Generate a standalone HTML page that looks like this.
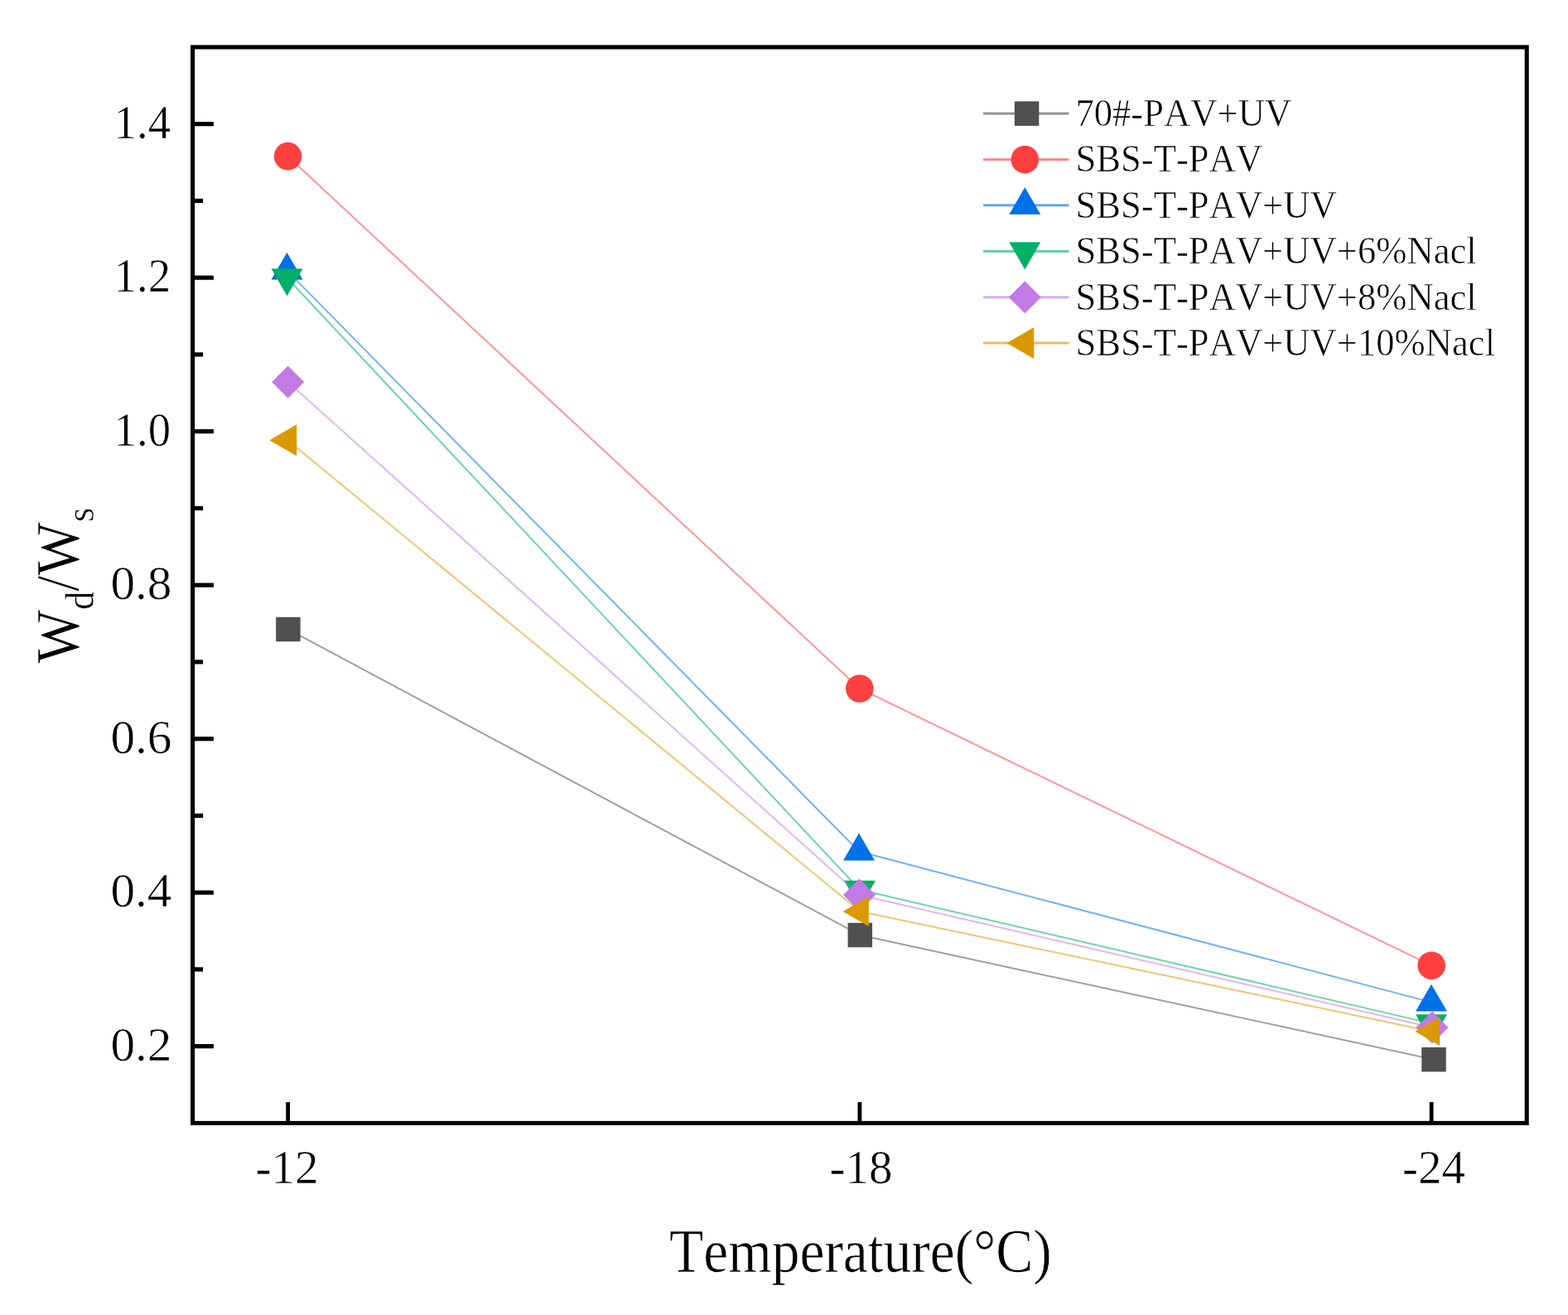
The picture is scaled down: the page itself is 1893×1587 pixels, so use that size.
<!DOCTYPE html>
<html><head><meta charset="utf-8"><style>
html,body{margin:0;padding:0;background:#fff;}
svg{display:block;}
text{font-family:"Liberation Serif","Times New Roman",serif;fill:#000;font-kerning:none;stroke:#fff;stroke-width:0.6px;}
</style></head><body>
<svg width="1893" height="1587" viewBox="0 0 1893 1587">
<rect x="0" y="0" width="1893" height="1587" fill="#fff"/>
<polyline points="347.90,759.50 1038.30,1128.50 1731.00,1278.70" fill="none" stroke="#505050" stroke-width="2.0" stroke-opacity="0.55"/>
<rect x="333.15" y="744.75" width="29.5" height="29.5" fill="#505050"/>
<rect x="1023.55" y="1113.75" width="29.5" height="29.5" fill="#505050"/>
<rect x="1716.25" y="1263.95" width="29.5" height="29.5" fill="#505050"/>
<polyline points="347.50,188.60 1037.80,831.00 1728.20,1165.20" fill="none" stroke="#FF4040" stroke-width="2.0" stroke-opacity="0.55"/>
<circle cx="347.50" cy="188.60" r="16.8" fill="#FF4040"/>
<circle cx="1037.80" cy="831.00" r="16.8" fill="#FF4040"/>
<circle cx="1728.20" cy="1165.20" r="16.8" fill="#FF4040"/>
<polyline points="346.50,326.60 1037.00,1027.50 1728.00,1209.60" fill="none" stroke="#0072E5" stroke-width="2.0" stroke-opacity="0.55"/>
<polygon points="346.50,304.66 327.50,337.57 365.50,337.57" fill="#0072E5"/>
<polygon points="1037.00,1005.56 1018.00,1038.47 1056.00,1038.47" fill="#0072E5"/>
<polygon points="1728.00,1187.66 1709.00,1220.57 1747.00,1220.57" fill="#0072E5"/>
<polyline points="346.50,335.20 1038.00,1073.80 1728.00,1235.10" fill="none" stroke="#00AF68" stroke-width="2.0" stroke-opacity="0.55"/>
<polygon points="346.50,357.14 327.50,324.23 365.50,324.23" fill="#00AF68"/>
<polygon points="1038.00,1095.74 1019.00,1062.83 1057.00,1062.83" fill="#00AF68"/>
<polygon points="1728.00,1257.04 1709.00,1224.13 1747.00,1224.13" fill="#00AF68"/>
<polyline points="347.60,460.90 1037.50,1080.00 1729.00,1240.00" fill="none" stroke="#C27AE5" stroke-width="2.0" stroke-opacity="0.55"/>
<polygon points="347.60,441.40 367.10,460.90 347.60,480.40 328.10,460.90" fill="#C27AE5"/>
<polygon points="1037.50,1060.50 1057.00,1080.00 1037.50,1099.50 1018.00,1080.00" fill="#C27AE5"/>
<polygon points="1729.00,1220.50 1748.50,1240.00 1729.00,1259.50 1709.50,1240.00" fill="#C27AE5"/>
<polyline points="347.20,531.30 1038.40,1100.00 1728.30,1244.70" fill="none" stroke="#DA9900" stroke-width="2.0" stroke-opacity="0.55"/>
<polygon points="325.26,531.30 358.17,512.30 358.17,550.30" fill="#DA9900"/>
<polygon points="1017.62,1100.00 1048.79,1082.00 1048.79,1118.00" fill="#DA9900"/>
<polygon points="1708.38,1244.70 1738.26,1227.45 1738.26,1261.95" fill="#DA9900"/>
<rect x="232.6" y="56.86" width="1610.6000000000001" height="1298.5500000000002" fill="none" stroke="#000" stroke-width="5.1"/>
<line x1="232.6" y1="1262.66" x2="257.9" y2="1262.66" stroke="#000" stroke-width="5.2"/>
<line x1="232.6" y1="1077.15" x2="257.9" y2="1077.15" stroke="#000" stroke-width="5.2"/>
<line x1="232.6" y1="891.64" x2="257.9" y2="891.64" stroke="#000" stroke-width="5.2"/>
<line x1="232.6" y1="706.14" x2="257.9" y2="706.14" stroke="#000" stroke-width="5.2"/>
<line x1="232.6" y1="520.63" x2="257.9" y2="520.63" stroke="#000" stroke-width="5.2"/>
<line x1="232.6" y1="335.12" x2="257.9" y2="335.12" stroke="#000" stroke-width="5.2"/>
<line x1="232.6" y1="149.61" x2="257.9" y2="149.61" stroke="#000" stroke-width="5.2"/>
<line x1="232.6" y1="1169.90" x2="245.1" y2="1169.90" stroke="#000" stroke-width="5.2"/>
<line x1="232.6" y1="984.40" x2="245.1" y2="984.40" stroke="#000" stroke-width="5.2"/>
<line x1="232.6" y1="798.89" x2="245.1" y2="798.89" stroke="#000" stroke-width="5.2"/>
<line x1="232.6" y1="613.38" x2="245.1" y2="613.38" stroke="#000" stroke-width="5.2"/>
<line x1="232.6" y1="427.87" x2="245.1" y2="427.87" stroke="#000" stroke-width="5.2"/>
<line x1="232.6" y1="242.37" x2="245.1" y2="242.37" stroke="#000" stroke-width="5.2"/>
<line x1="347.64285878632654" y1="1355.41" x2="347.64285878632654" y2="1330.1100000000001" stroke="#000" stroke-width="4.8"/>
<line x1="1037.9000115042859" y1="1355.41" x2="1037.9000115042859" y2="1330.1100000000001" stroke="#000" stroke-width="4.8"/>
<line x1="1728.157164222245" y1="1355.41" x2="1728.157164222245" y2="1330.1100000000001" stroke="#000" stroke-width="4.8"/>
<text transform="translate(207.5,1279.66) scale(1.04,1)" text-anchor="end" font-size="57">0.2</text>
<text transform="translate(207.5,1094.15) scale(1.04,1)" text-anchor="end" font-size="57">0.4</text>
<text transform="translate(207.5,908.64) scale(1.04,1)" text-anchor="end" font-size="57">0.6</text>
<text transform="translate(207.5,723.14) scale(1.04,1)" text-anchor="end" font-size="57">0.8</text>
<text transform="translate(206,537.63) scale(0.96,1)" text-anchor="end" font-size="57">1.0</text>
<text transform="translate(206,352.12) scale(0.96,1)" text-anchor="end" font-size="57">1.2</text>
<text transform="translate(206,166.61) scale(0.96,1)" text-anchor="end" font-size="57">1.4</text>
<text x="346.5" y="1428" text-anchor="middle" font-size="57">-12</text>
<text x="1039.4" y="1428" text-anchor="middle" font-size="57">-18</text>
<text x="1731.0" y="1428" text-anchor="middle" font-size="57">-24</text>
<text transform="translate(1038.85,1535) scale(0.90,1)" text-anchor="middle" font-size="75">Temperature(°C)</text>
<text transform="translate(95,706.6) rotate(-90) scale(0.912,1)" text-anchor="middle" font-size="75">W<tspan font-size="49" dy="17.5">d</tspan><tspan dy="-17.5">/W</tspan><tspan font-size="49" dy="17.5">s</tspan></text>
<line x1="1187" y1="137.07" x2="1290.4" y2="137.07" stroke="#505050" stroke-width="3.0" stroke-opacity="0.62"/>
<rect x="1224.85" y="122.32" width="29.5" height="29.5" fill="#505050"/>
<text transform="translate(1298.4,152.07) scale(0.95,1)" font-size="47">70#-PAV+UV</text>
<line x1="1187" y1="192.47" x2="1290.4" y2="192.47" stroke="#FF4040" stroke-width="3.0" stroke-opacity="0.62"/>
<circle cx="1237.30" cy="192.47" r="16.8" fill="#FF4040"/>
<text transform="translate(1298.4,207.47) scale(0.95,1)" font-size="47">SBS-T-PAV</text>
<line x1="1187" y1="247.87" x2="1290.4" y2="247.87" stroke="#0072E5" stroke-width="3.0" stroke-opacity="0.62"/>
<polygon points="1237.30,225.93 1218.30,258.84 1256.30,258.84" fill="#0072E5"/>
<text transform="translate(1298.4,262.87) scale(0.95,1)" font-size="47">SBS-T-PAV+UV</text>
<line x1="1187" y1="303.27" x2="1290.4" y2="303.27" stroke="#00AF68" stroke-width="3.0" stroke-opacity="0.62"/>
<polygon points="1237.30,325.21 1218.30,292.30 1256.30,292.30" fill="#00AF68"/>
<text transform="translate(1298.4,318.27) scale(0.95,1)" font-size="47">SBS-T-PAV+UV+6%Nacl</text>
<line x1="1187" y1="358.66999999999996" x2="1290.4" y2="358.66999999999996" stroke="#C27AE5" stroke-width="3.0" stroke-opacity="0.62"/>
<polygon points="1237.30,339.17 1256.80,358.67 1237.30,378.17 1217.80,358.67" fill="#C27AE5"/>
<text transform="translate(1298.4,373.67) scale(0.95,1)" font-size="47">SBS-T-PAV+UV+8%Nacl</text>
<line x1="1187" y1="414.07" x2="1290.4" y2="414.07" stroke="#DA9900" stroke-width="3.0" stroke-opacity="0.62"/>
<polygon points="1215.36,414.07 1248.27,395.07 1248.27,433.07" fill="#DA9900"/>
<text transform="translate(1298.4,429.07) scale(0.95,1)" font-size="47">SBS-T-PAV+UV+10%Nacl</text>
</svg>
</body></html>
